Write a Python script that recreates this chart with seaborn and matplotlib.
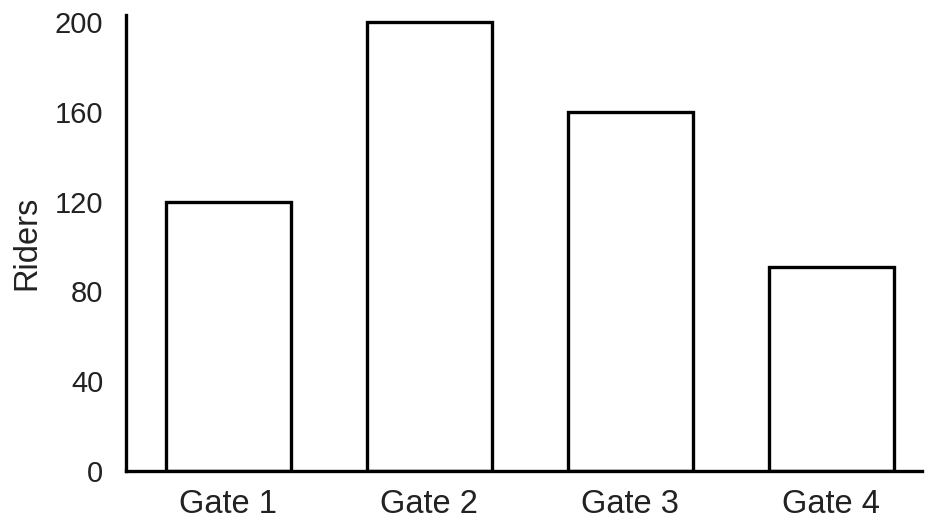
import matplotlib
matplotlib.use("Agg")
import matplotlib.pyplot as plt
import seaborn as sns
import pandas as pd

gates = ["Gate 1", "Gate 2", "Gate 3", "Gate 4"]
riders = [120, 200, 160, 91]
yticks = [0, 40, 80, 120, 160, 200]

sns.set_theme(style="white")
plt.rcParams['font.family'] = ['Liberation Sans', 'DejaVu Sans']

df = pd.DataFrame({"Gate": gates, "Riders": riders})

fig = plt.figure(figsize=(9.31, 5.27), dpi=100)
ax = fig.add_axes([0.135, 0.106, 0.855, 0.865])
sns.barplot(data=df, x="Gate", y="Riders", ax=ax, color="white",
            edgecolor="black", linewidth=2.4, width=0.62, saturation=1)
ax.set_xlim(-0.51, 3.45)
ax.set_ylim(0, 203)
ax.set_yticks(yticks)
ax.set_xlabel("")
ax.set_ylabel("Riders", fontsize=23.5, labelpad=9, color="#222222")
ax.tick_params(axis="y", labelsize=21, length=0, pad=16, colors="#222222")
ax.tick_params(axis="x", labelsize=23.5, length=0, pad=13, colors="#222222")
for s in ["top", "right"]:
    ax.spines[s].set_visible(False)
for s in ["left", "bottom"]:
    ax.spines[s].set_color("black")
    ax.spines[s].set_linewidth(2.4)
fig.savefig("out.png", dpi=100, facecolor="white")
